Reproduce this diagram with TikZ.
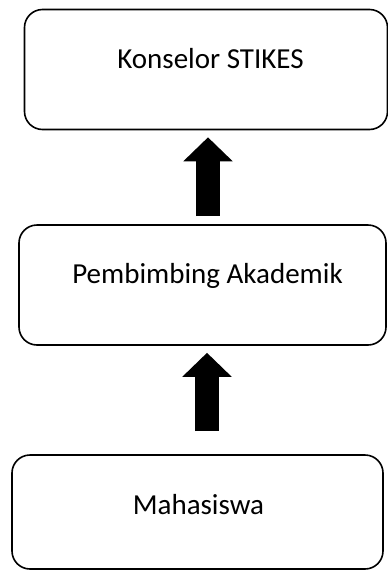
\documentclass[tikz,border=0pt]{standalone}
\usepackage{fontspec}
\setmainfont{Carlito}
\usetikzlibrary{arrows.meta}
\begin{document}
\begin{tikzpicture}[x=1pt,y=-1pt,
  box/.style={draw=black,line width=1.6pt,rounded corners=18pt,inner sep=0pt},
  lbl/.style={font=\fontsize{29}{33}\selectfont,inner sep=0pt,anchor=base},
  blockarrow/.style={line width=24pt,-{Triangle[width=48pt,length=24pt]}}]
\useasboundingbox (0,0) rectangle (388,571);
\node[box,minimum width=363pt,minimum height=120pt] (top) at (206,69.5) {};
\node[box,minimum width=367pt,minimum height=120pt] (mid) at (202.5,285) {};
\node[box,minimum width=371pt,minimum height=114pt] (bot) at (197.5,512) {};
\node[lbl] (ttop) at (210.5,68) {Konselor STIKES};
\node[lbl] (tmid) at (207.5,283) {Pembimbing Akademik};
\node[lbl] (tbot) at (198.5,514) {Mahasiswa};
\draw[blockarrow] ([xshift=5.5pt,yshift=8pt]mid.north) -- ([xshift=2pt,yshift=-7pt]top.south);
\draw[blockarrow] ([xshift=9.5pt,yshift=23pt]bot.north) -- ([xshift=4.5pt,yshift=-7pt]mid.south);
\end{tikzpicture}
\end{document}
